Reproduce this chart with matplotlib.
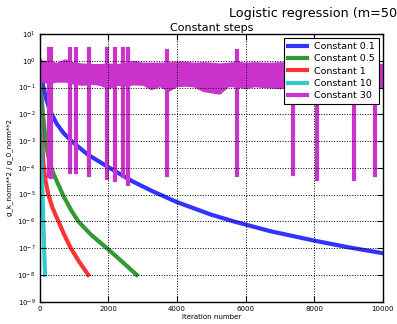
import numpy as np
import matplotlib
matplotlib.use("Agg")
import matplotlib.pyplot as plt
from matplotlib.ticker import NullLocator

# log10(g_k_norm**2 / g_0_norm**2)
it_01 = [0, 50, 100, 200, 300, 500, 700, 930, 1400, 2000, 2700, 3300, 4000, 5000, 5650, 6730, 8000, 9000, 10000]
lg_01 = [0, -0.5, -0.9, -1.45, -1.85, -2.35, -2.7, -3.0, -3.5, -3.97, -4.5, -4.88, -5.28, -5.75, -6.0, -6.37, -6.72, -6.97, -7.19]
it_05 = [0, 50, 100, 200, 300, 400, 695, 930, 1130, 1500, 1960, 2400, 2830]
lg_05 = [0, -1.2, -2.0, -3.2, -3.84, -4.2, -5.05, -5.6, -6.0, -6.5, -7.0, -7.5, -8.0]
it_1 = [0, 40, 80, 110, 170, 257, 380, 550, 720, 910, 1150, 1420]
lg_1 = [0, -2.0, -3.0, -3.8, -4.45, -5.0, -5.5, -6.0, -6.5, -7.0, -7.5, -8.0]
it_10 = [0, 20, 60, 110, 160]
lg_10 = [0, -1.5, -3.7, -6.0, -8.0]

# Constant 30: noisy band (upper / lower edge) plus the sharp spikes
band_it = [0, 250, 500, 750, 1000, 1250, 1500, 1750, 2000, 2250, 2500, 2750, 3000, 3250,
           3500, 3750, 4000, 4250, 4500, 4750, 5000, 5250, 5500, 5750, 6000, 6250, 6500,
           6750, 7000, 7250, 7500, 7750, 8000, 8250, 8500, 8750, 9000, 9250, 9500, 9750, 10000]
band_hi = [0.04, 0.0, -0.05, 0.08, -0.05, -0.08, -0.1, -0.1, -0.08, -0.1, -0.05, 0.02, -0.05, -0.05,
           -0.05, -0.04, 0.0, -0.02, -0.05, -0.03, -0.05, -0.08, -0.05, -0.02, -0.05, -0.03, -0.05,
           -0.05, -0.03, -0.05, -0.05, -0.05, -0.05, -0.05, -0.05, -0.05, -0.05, -0.05, -0.05, -0.08, -0.1]
band_lo = [-0.8, -0.85, -0.8, -0.8, -0.88, -0.92, -0.88, -0.92, -1.05, -0.92, -0.95, -0.9, -0.92, -1.08,
           -0.97, -1.15, -0.97, -0.95, -0.98, -1.15, -1.2, -1.25, -0.97, -0.98, -1.05, -0.97, -1.0,
           -1.02, -1.05, -0.95, -0.95, -0.93, -0.97, -0.93, -0.95, -0.93, -0.97, -0.93, -0.95, -0.97, -1.0]
spike_it = [280, 345, 895, 1060, 1450, 1960, 2190, 2435, 2575, 3720, 5755, 7385, 8085, 9160, 9770]
spike_top = [0.45, 0.45, 0.45, 0.45, 0.45, 0.45, 0.45, 0.45, 0.45, 0.35, 0.37, -0.05, -0.05, -0.05, -0.05]
spike_bot = [-4.3, -4.34, -4.16, -4.15, -4.28, -4.37, -4.47, -4.32, -4.62, -4.28, -4.28, -4.22, -4.4, -4.4, -4.28]

x_ticks = [0, 2000, 4000, 6000, 8000, 10000]
y_ticks = [1e-9, 1e-8, 1e-7, 1e-6, 1e-5, 1e-4, 1e-3, 1e-2, 1e-1, 1e0, 1e1]

fig = plt.figure(figsize=(3.97, 3.24), dpi=100)
ax = fig.add_axes([0.0995, 0.069, 0.865, 0.826])

lw = 3
ax.plot(it_01, 10 ** np.array(lg_01), color='b', alpha=0.8, lw=lw, label='Constant 0.1')
ax.plot(it_05, 10 ** np.array(lg_05), color='g', alpha=0.8, lw=lw, label='Constant 0.5')
ax.plot(it_1, 10 ** np.array(lg_1), color='r', alpha=0.8, lw=lw, label='Constant 1')
ax.plot(it_10, 10 ** np.array(lg_10), color='c', alpha=0.8, lw=lw, label='Constant 10')

mag = '#cc33cc'
ax.fill_between(band_it, 10 ** np.array(band_hi), 10 ** np.array(band_lo), color=mag, lw=0, zorder=2)
sx, sy = [], []
for s, t, b in zip(spike_it, spike_top, spike_bot):
    sx += [s, s, np.nan]
    sy += [10 ** t, 10 ** b, np.nan]
ax.plot(sx, sy, color=mag, lw=lw, label='Constant 30', zorder=2)

ax.set_yscale('log')
ax.set_xlim(0, 10000)
ax.set_ylim(1e-9, 1e1)
ax.set_xticks(x_ticks)
ax.set_yticks(y_ticks)
ax.yaxis.set_minor_locator(NullLocator())
ax.tick_params(direction='in', length=4, width=0.8, labelsize=5, top=True, right=True, pad=3)
ax.set_axisbelow(False)
ax.grid(True, color='k', linestyle=':', linewidth=0.7)
for sp in ax.spines.values():
    sp.set_linewidth(1)

ax.set_title('Constant steps', fontsize=8, pad=2.5)
ax.set_xlabel('Iteration number', fontsize=5, labelpad=1.5)
ax.set_ylabel('g_k_norm**2 / g_0_norm**2', fontsize=5, labelpad=3)
fig.text(229 / 397, 1 - 16.7 / 324, 'Logistic regression (m=50', ha='left', va='baseline', fontsize=9.2)

leg = ax.legend(loc='upper right', fontsize=6.8, handlelength=2.0, handletextpad=0.8,
                labelspacing=0.35, borderpad=0.4, borderaxespad=0.45, fancybox=False,
                framealpha=1, edgecolor='k')
leg.get_frame().set_linewidth(0.8)

plt.savefig('out.png', dpi=100)
